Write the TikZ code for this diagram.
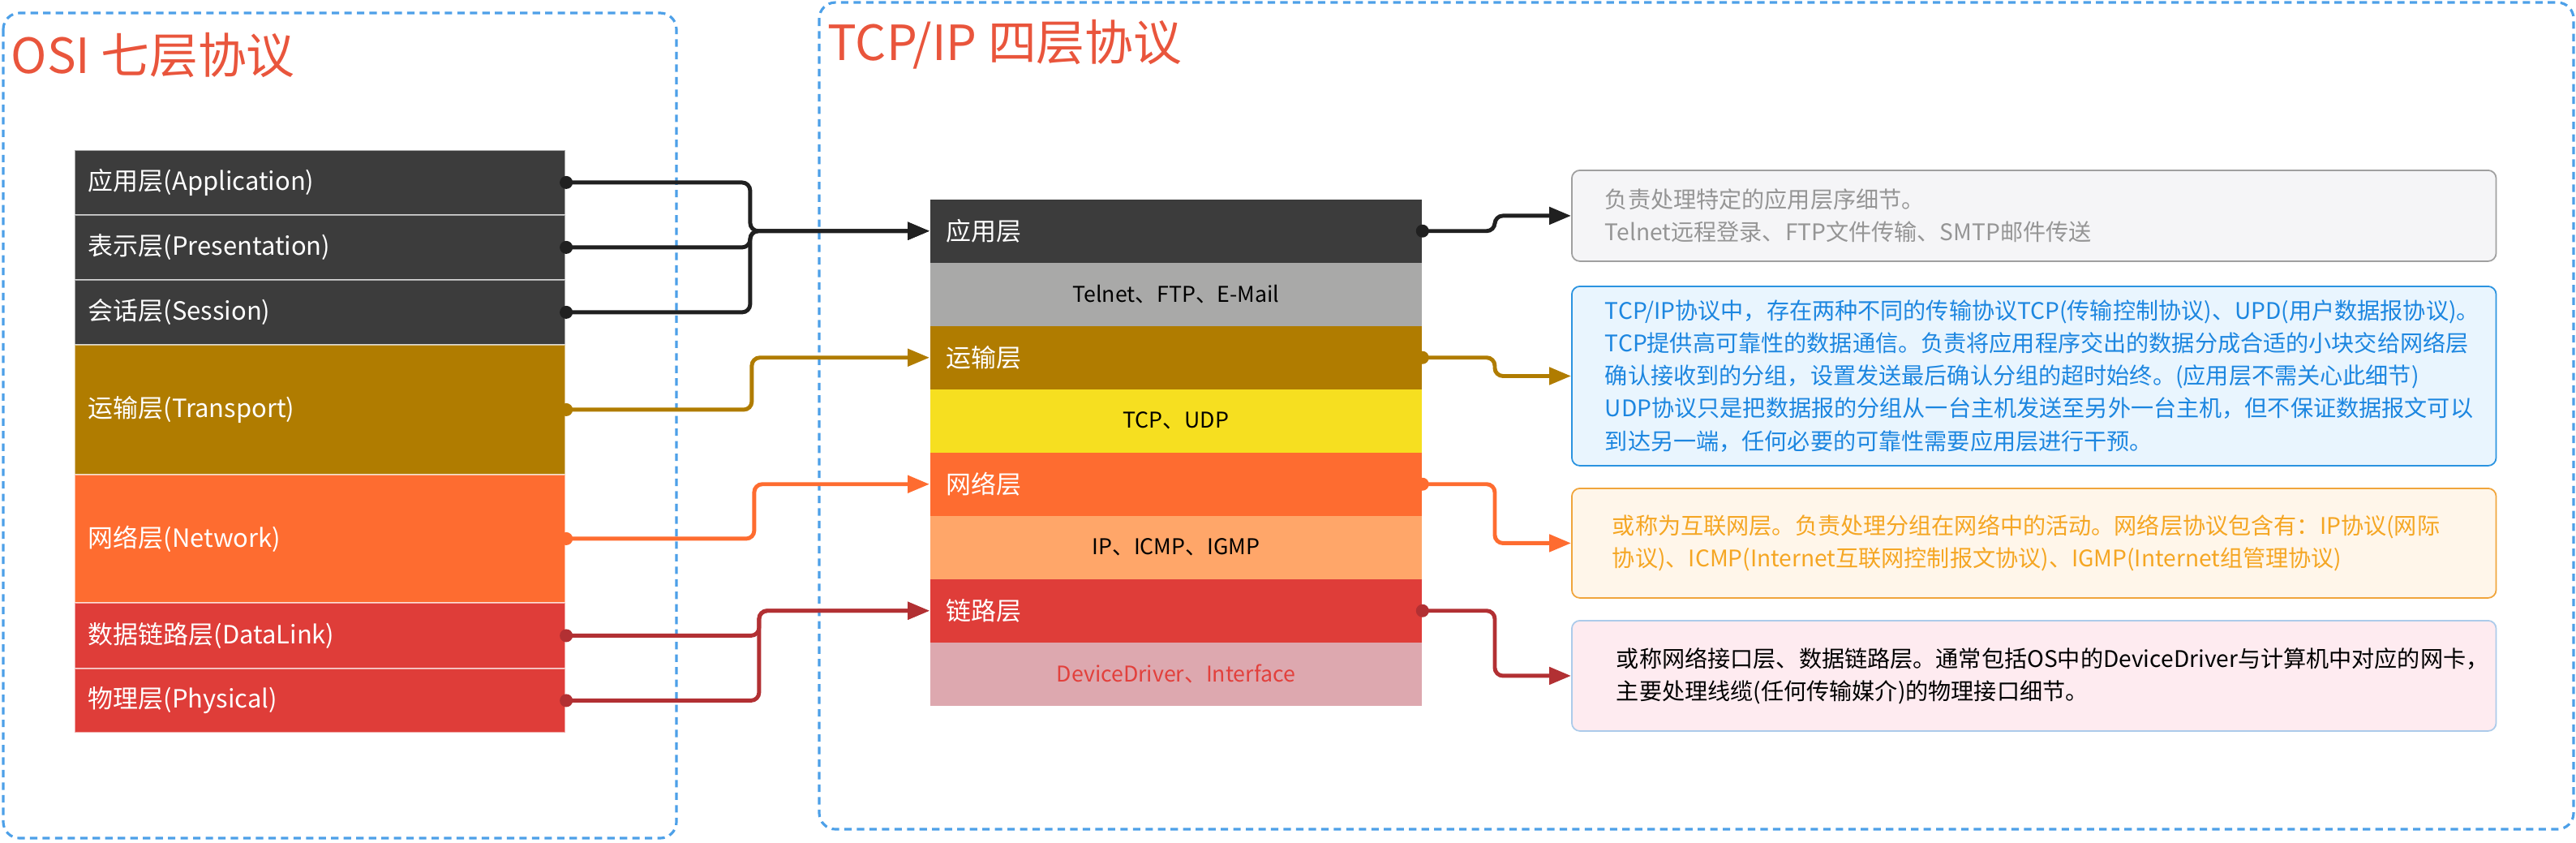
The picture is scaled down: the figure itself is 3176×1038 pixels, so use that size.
\documentclass[tikz,border=0pt]{standalone}
\usepackage{fontspec}
\setmainfont{Noto Sans CJK SC}
\usetikzlibrary{arrows.meta}

\definecolor{osidark}{HTML}{3C3C3C}
\definecolor{subgrey}{HTML}{A9A9A8}
\definecolor{transgold}{HTML}{B07C00}
\definecolor{tcpyellow}{HTML}{F6DF20}
\definecolor{netorange}{HTML}{FE6C30}
\definecolor{iplight}{HTML}{FFA669}
\definecolor{linkred}{HTML}{DF3D39}
\definecolor{ddpink}{HTML}{DDA8AF}
\definecolor{ddtext}{HTML}{E2403C}
\definecolor{wirered}{HTML}{B23033}
\definecolor{wireblack}{HTML}{202020}
\definecolor{frameblue}{HTML}{4DA0E8}
\definecolor{titlered}{HTML}{E9553C}
\definecolor{appfill}{HTML}{F5F5F7}
\definecolor{appline}{HTML}{A0A0A0}
\definecolor{apptext}{HTML}{959595}
\definecolor{trafill}{HTML}{E9F5FE}
\definecolor{traline}{HTML}{2A93E0}
\definecolor{tratext}{HTML}{1C86E0}
\definecolor{netfill}{HTML}{FFF6EA}
\definecolor{netline}{HTML}{F0A53C}
\definecolor{nettext}{HTML}{F5A623}
\definecolor{lnkfill}{HTML}{FEEBF0}
\definecolor{lnkline}{HTML}{ACCBEA}

\begin{document}
\begin{tikzpicture}[x=0.01cm, y=-0.01cm,
    frame/.style={draw=frameblue, line width=0.9pt, dash pattern=on 2.6pt off 1.8pt, rounded corners=2mm},
    titletext/.style={anchor=west, inner sep=0pt, text=titlered, font=\fontsize{17}{20}\selectfont},
    osirow/.style={anchor=north west, text width=5.71cm, inner xsep=1.7mm, align=left, text=white,
        font=\fontsize{8.8}{10}\selectfont, draw=white, draw opacity=0.55, line width=0.5pt},
    tcphead/.style={anchor=north west, text width=5.66cm, inner xsep=2mm, minimum height=0.78cm,
        align=left, text=white, font=\fontsize{8.8}{10}\selectfont},
    tcpsub/.style={tcphead, align=center, text=black, font=\fontsize{7.6}{9}\selectfont},
    descbox/.style={anchor=north west, rounded corners=1mm, line width=0.5pt, align=left,
        inner xsep=4.1mm, text width=10.57cm, font=\fontsize{8}{11.4}\selectfont},
    wire/.style={line width=1.4pt, rounded corners=1mm, -{Triangle[length=2.7mm,width=2.1mm]}}]
    \useasboundingbox (0,0) rectangle (3176,1038);

    % 两个虚线框
    \draw[frame] (4,16) rectangle (834,1033);
    \draw[frame] (1010,3) rectangle (3173,1022);
    \node[titletext] (osititle) at (13,68) {OSI 七层协议};
    \node[titletext] (tcptitle) at (1020,55) {TCP/IP 四层协议};

    % OSI 七层
    \node[osirow, fill=osidark, minimum height=0.8cm] (oapp) at (91,184) {应用层(Application)};
    \node[osirow, fill=osidark, minimum height=0.8cm] (opre) at (91,264) {表示层(Presentation)};
    \node[osirow, fill=osidark, minimum height=0.8cm] (oses) at (91,344) {会话层(Session)};
    \node[osirow, fill=transgold, minimum height=1.6cm] (otra) at (91,424) {运输层(Transport)};
    \node[osirow, fill=netorange, minimum height=1.58cm] (onet) at (91,584) {网络层(Network)};
    \node[osirow, fill=linkred, minimum height=0.81cm] (odl) at (91,742) {数据链路层(DataLink)};
    \node[osirow, fill=linkred, minimum height=0.79cm] (ophy) at (91,823) {物理层(Physical)};

    % TCP/IP 四层
    \node[tcphead, fill=osidark] (tapp) at (1146,245) {应用层};
    \node[tcpsub, fill=subgrey] (tappsub) at (1146,323) {Telnet、FTP、E-Mail};
    \node[tcphead, fill=transgold] (ttra) at (1146,401) {运输层};
    \node[tcpsub, fill=tcpyellow] (ttrasub) at (1146,479) {TCP、UDP};
    \node[tcphead, fill=netorange] (tnet) at (1146,557) {网络层};
    \node[tcpsub, fill=iplight] (tnetsub) at (1146,635) {IP、ICMP、IGMP};
    \node[tcphead, fill=linkred] (tlnk) at (1146,713) {链路层};
    \node[tcpsub, fill=ddpink, text=ddtext] (tlnksub) at (1146,791) {DeviceDriver、Interface};

    % 说明框
    \node[descbox, draw=appline, fill=appfill, text=apptext, minimum height=1.12cm] (dapp) at (1937,209)
        {负责处理特定的应用层序细节。\\Telnet远程登录、FTP文件传输、SMTP邮件传送};
    \node[descbox, draw=traline, fill=trafill, text=tratext, minimum height=2.21cm] (dtra) at (1937,352)
        {TCP/IP协议中，存在两种不同的传输协议TCP(传输控制协议)、UPD(用户数据报协议)。\\
         TCP提供高可靠性的数据通信。负责将应用程序交出的数据分成合适的小块交给网络层\\
         确认接收到的分组，设置发送最后确认分组的超时始终。(应用层不需关心此细节)\\
         UDP协议只是把数据报的分组从一台主机发送至另外一台主机，但不保证数据报文可以\\
         到达另一端，任何必要的可靠性需要应用层进行干预。};
    \node[descbox, draw=netline, fill=netfill, text=nettext, minimum height=1.35cm,
        inner xsep=5mm, text width=10.39cm] (dnet) at (1937,601)
        {或称为互联网层。负责处理分组在网络中的活动。网络层协议包含有：IP协议(网际\\
         协议)、ICMP(Internet互联网控制报文协议)、IGMP(Internet组管理协议)};
    \node[descbox, draw=lnkline, fill=lnkfill, text=black, minimum height=1.36cm,
        inner xsep=5.5mm, text width=10.29cm] (dlnk) at (1937,764)
        {或称网络接口层、数据链路层。通常包括OS中的DeviceDriver与计算机中对应的网卡，\\
         主要处理线缆(任何传输媒介)的物理接口细节。};

    % OSI → TCP/IP 连线
    \foreach \a/\b/\c/\s in {oapp/tapp/wireblack/22.1, opre/tapp/wireblack/22.1, oses/tapp/wireblack/22.1,
        otra/ttra/transgold/21.9, onet/tnet/netorange/21.6, odl/tlnk/wirered/21, ophy/tlnk/wirered/21}{
        \draw[wire, \c] (\a.east) -| ([xshift=-\s mm]\b.west) -- (\b.west);
        \fill[\c] (\a.east) circle (0.8mm);
    }
    % TCP/IP → 说明
    \foreach \a/\b/\c in {tapp/dapp/wireblack, ttra/dtra/transgold, tnet/dnet/netorange, tlnk/dlnk/wirered}{
        \draw[wire, \c] (\a.east) -| ([xshift=-9.4mm]\b.west) -- (\b.west);
        \fill[\c] (\a.east) circle (0.8mm);
    }
\end{tikzpicture}
\end{document}
